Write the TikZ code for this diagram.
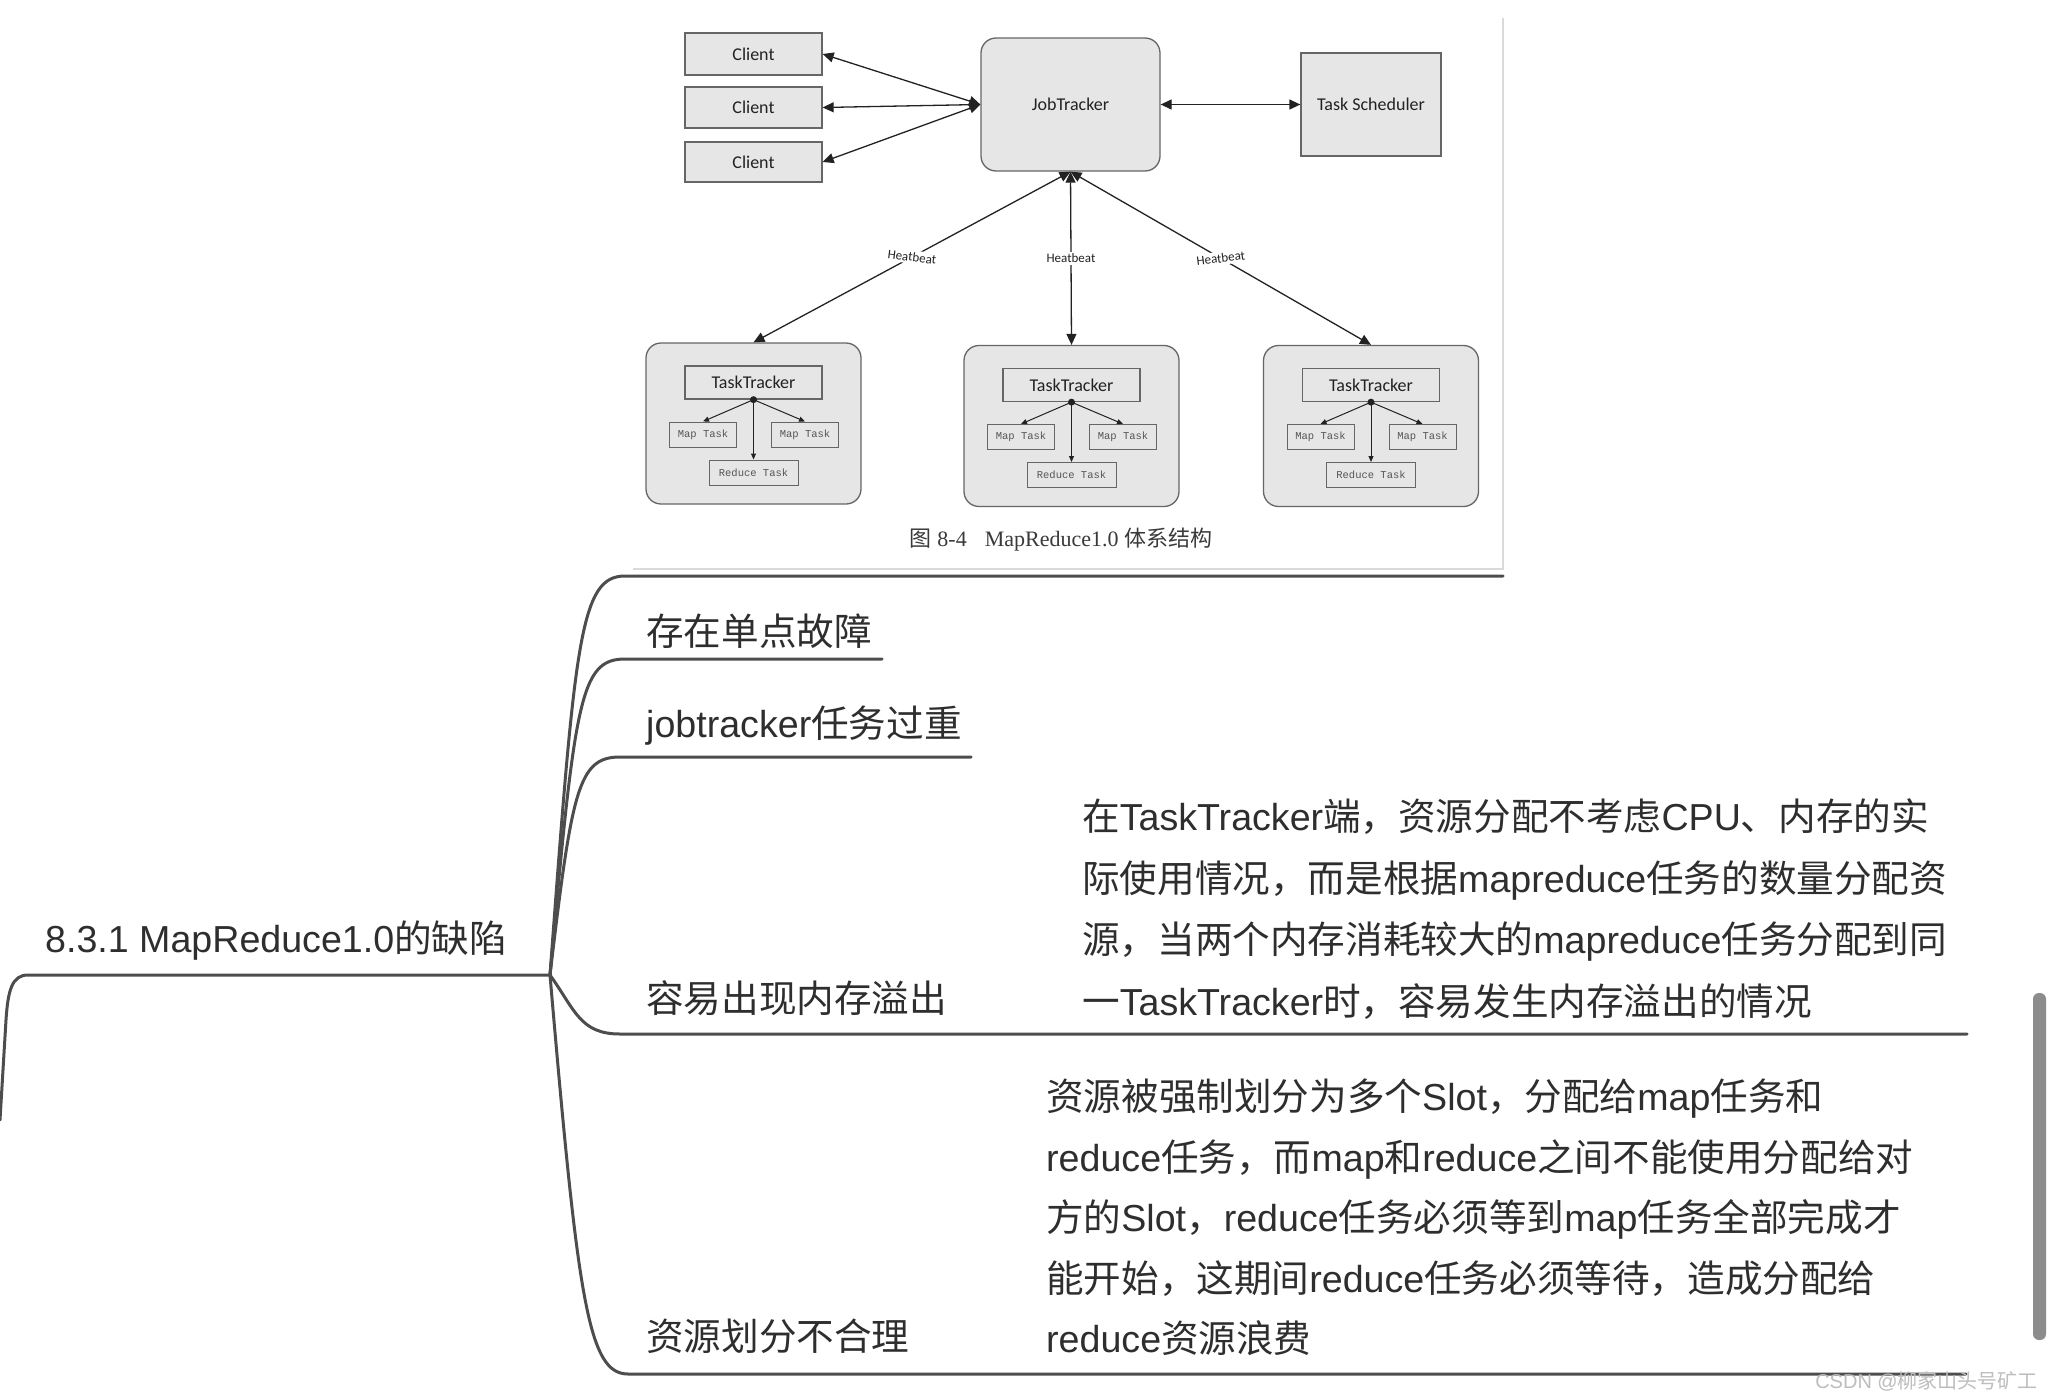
\documentclass[tikz,border=0pt]{standalone}
\usepackage{fontspec}
\usetikzlibrary{arrows.meta}
\setmainfont{Liberation Sans}
\newfontfamily\cjk{Noto Sans CJK SC}
\newfontfamily\carl{Carlito}
\newfontfamily\monof{Liberation Mono}
\newfontfamily\seriff{Liberation Serif}
\newcommand\zh[1]{{\cjk #1}}
\definecolor{boxfill}{HTML}{E6E6E6}
\definecolor{boxline}{HTML}{666666}
\definecolor{diagtext}{HTML}{222222}
\definecolor{smalltext}{HTML}{555555}
\definecolor{mmline}{HTML}{4D4D4D}
\definecolor{mmtext}{HTML}{2E2E2E}
\definecolor{borderc}{HTML}{DADADA}
\definecolor{scrollc}{HTML}{8C8C8C}
\definecolor{wmark}{HTML}{BDBDBD}
\definecolor{captc}{HTML}{3A3A3A}
\tikzset{
  box/.style={draw=boxline, fill=boxfill, line width=1.3pt, inner sep=0pt,
    font=\carl\fontsize{18}{20}\selectfont, text=diagtext},
  tbox/.style={box, rounded corners=15pt},
  small/.style={draw=boxline, fill=boxfill, line width=1pt, inner sep=0pt,
    font=\monof\fontsize{10.5}{12}\selectfont, text=smalltext},
  darr/.style={line width=1.3pt, draw=diagtext,
    {Triangle[length=11pt,width=10pt]}-{Triangle[length=11pt,width=10pt]}},
  tarr/.style={line width=1pt, draw=diagtext, -{Triangle[length=6pt,width=5pt]}},
  hlabel/.style={fill=white, inner sep=2pt, font=\carl\fontsize{13}{14}\selectfont, text=diagtext},
  mm/.style={inner sep=0pt, anchor=base west, font=\fontsize{37.6}{44}\selectfont, text=mmtext},
  mmedge/.style={draw=mmline, line width=3pt, line cap=round, line join=round},
}
\begin{document}
\begin{tikzpicture}[x=1pt,y=-1pt]
\useasboundingbox[fill=white] (0,0) rectangle (2048,1397);

% ---------- embedded figure ----------
\draw[borderc, line width=1.5pt] (1503,18) -- (1503,569) -- (633,569);

\node[box, minimum width=137pt, minimum height=42pt] (c1) at (753.5,54) {Client};
\node[box, minimum width=137pt, minimum height=41pt] (c2) at (753.5,107.5) {Client};
\node[box, minimum width=137pt, minimum height=40pt] (c3) at (753.5,162) {Client};
\node[tbox, minimum width=179pt, minimum height=133pt] (jt) at (1070.5,104.5) {JobTracker};
\node[box, minimum width=140pt, minimum height=103pt] (ts) at (1371,104.5) {Task Scheduler};

\draw[darr] (c1.east) -- (jt.west);
\draw[darr] (c2.east) -- (jt.west);
\draw[darr] (c3.east) -- (jt.west);
\draw[darr] (jt.east) -- (ts.west);

\foreach \i/\cx/\cy in {1/753.5/423.5, 2/1071.5/426, 3/1371/426} {
  \node[tbox, minimum width=215pt, minimum height=161pt] (tt\i) at (\cx,\cy) {};
  \node[box, minimum width=137pt, minimum height=33pt] (itt\i) at (\cx,\cy-41) {TaskTracker};
  \node[small, minimum width=67pt, minimum height=25pt] (ma\i) at (\cx-50.5,\cy+11) {Map Task};
  \node[small, minimum width=67pt, minimum height=25pt] (mb\i) at (\cx+51.5,\cy+11) {Map Task};
  \node[small, minimum width=89pt, minimum height=25pt] (rd\i) at (\cx,\cy+49) {Reduce Task};
  \draw[tarr] (itt\i.south) -- (ma\i.north);
  \draw[tarr] (itt\i.south) -- (mb\i.north);
  \draw[tarr] (itt\i.south) -- (rd\i.north);
  \fill[diagtext] (itt\i.south) circle (3.5pt);
}

\draw[darr] (jt.south) -- node[hlabel, rotate=-7] {Heatbeat} (tt1.north);
\draw[darr] (jt.south) -- node[hlabel] {Heatbeat} (tt2.north);
\draw[darr] (jt.south) -- node[hlabel, rotate=7] {Heatbeat} (tt3.north);

\node[font=\seriff\fontsize{22}{24}\selectfont, text=captc, inner sep=0pt] (cap) at (1061,540)
  {\zh{图} 8-4\hspace{18pt}MapReduce1.0 \zh{体系结构}};

% ---------- mind map ----------
\node[mm] (root) at (45,952) {8.3.1 MapReduce1.0\zh{的缺陷}};
\coordinate (hub) at (550,975);
\coordinate (rl) at (0,1120);

\node[mm] (k1) at (646,645) {\zh{存在单点故障}};
\node[mm] (k2) at (646,737) {jobtracker\zh{任务过重}};
\node[mm] (k3) at (646,1012) {\zh{容易出现内存溢出}};
\node[mm] (k4) at (646,1350) {\zh{资源划分不合理}};

\node[mm] (d3a) at (1082,830) {\zh{在}TaskTracker\zh{端，资源分配不考虑}CPU\zh{、内存的实}};
\node[mm] (d3b) at (1082,892) {\zh{际使用情况，而是根据}mapreduce\zh{任务的数量分配资}};
\node[mm] (d3c) at (1082,953) {\zh{源，当两个内存消耗较大的}mapreduce\zh{任务分配到同}};
\node[mm] (d3d) at (1082,1015) {\zh{一}TaskTracker\zh{时，容易发生内存溢出的情况}};

\node[mm] (d4a) at (1046,1110) {\zh{资源被强制划分为多个}Slot\zh{，分配给}map\zh{任务和}};
\node[mm] (d4b) at (1046,1171) {reduce\zh{任务，而}map\zh{和}reduce\zh{之间不能使用分配给对}};
\node[mm] (d4c) at (1046,1231) {\zh{方的}Slot\zh{，}reduce\zh{任务必须等到}map\zh{任务全部完成才}};
\node[mm] (d4d) at (1046,1292) {\zh{能开始，这期间}reduce\zh{任务必须等待，造成分配给}};
\node[mm] (d4e) at (1046,1352) {reduce\zh{资源浪费}};

\draw[mmedge] (hub) -- (28,975) .. controls (12,975) and (8,990) .. (6,1020) -- (rl);
\draw[mmedge] (hub) .. controls (575,640) and (580,576) .. (625,576) -- (1503,576);
\draw[mmedge] (hub) .. controls (575,700) and (580,659) .. (625,659) -- (882,659);
\draw[mmedge] (hub) .. controls (572,790) and (578,757) .. (620,757) -- (971,757);
\draw[mmedge] (hub) .. controls (575,1010) and (580,1034) .. (620,1034) -- (1967,1034);
\draw[mmedge] (hub) .. controls (578,1300) and (588,1374) .. (628,1374) -- (1966,1374);

% scrollbar and watermark
\fill[scrollc, rounded corners=6pt] (2033,993) rectangle (2046,1340);
\node[inner sep=0pt, anchor=base east, font=\fontsize{20}{22}\selectfont, text=wmark] (wm) at (2038,1388)
  {CSDN @\zh{柳家山头号矿工}};
\end{tikzpicture}
\end{document}
